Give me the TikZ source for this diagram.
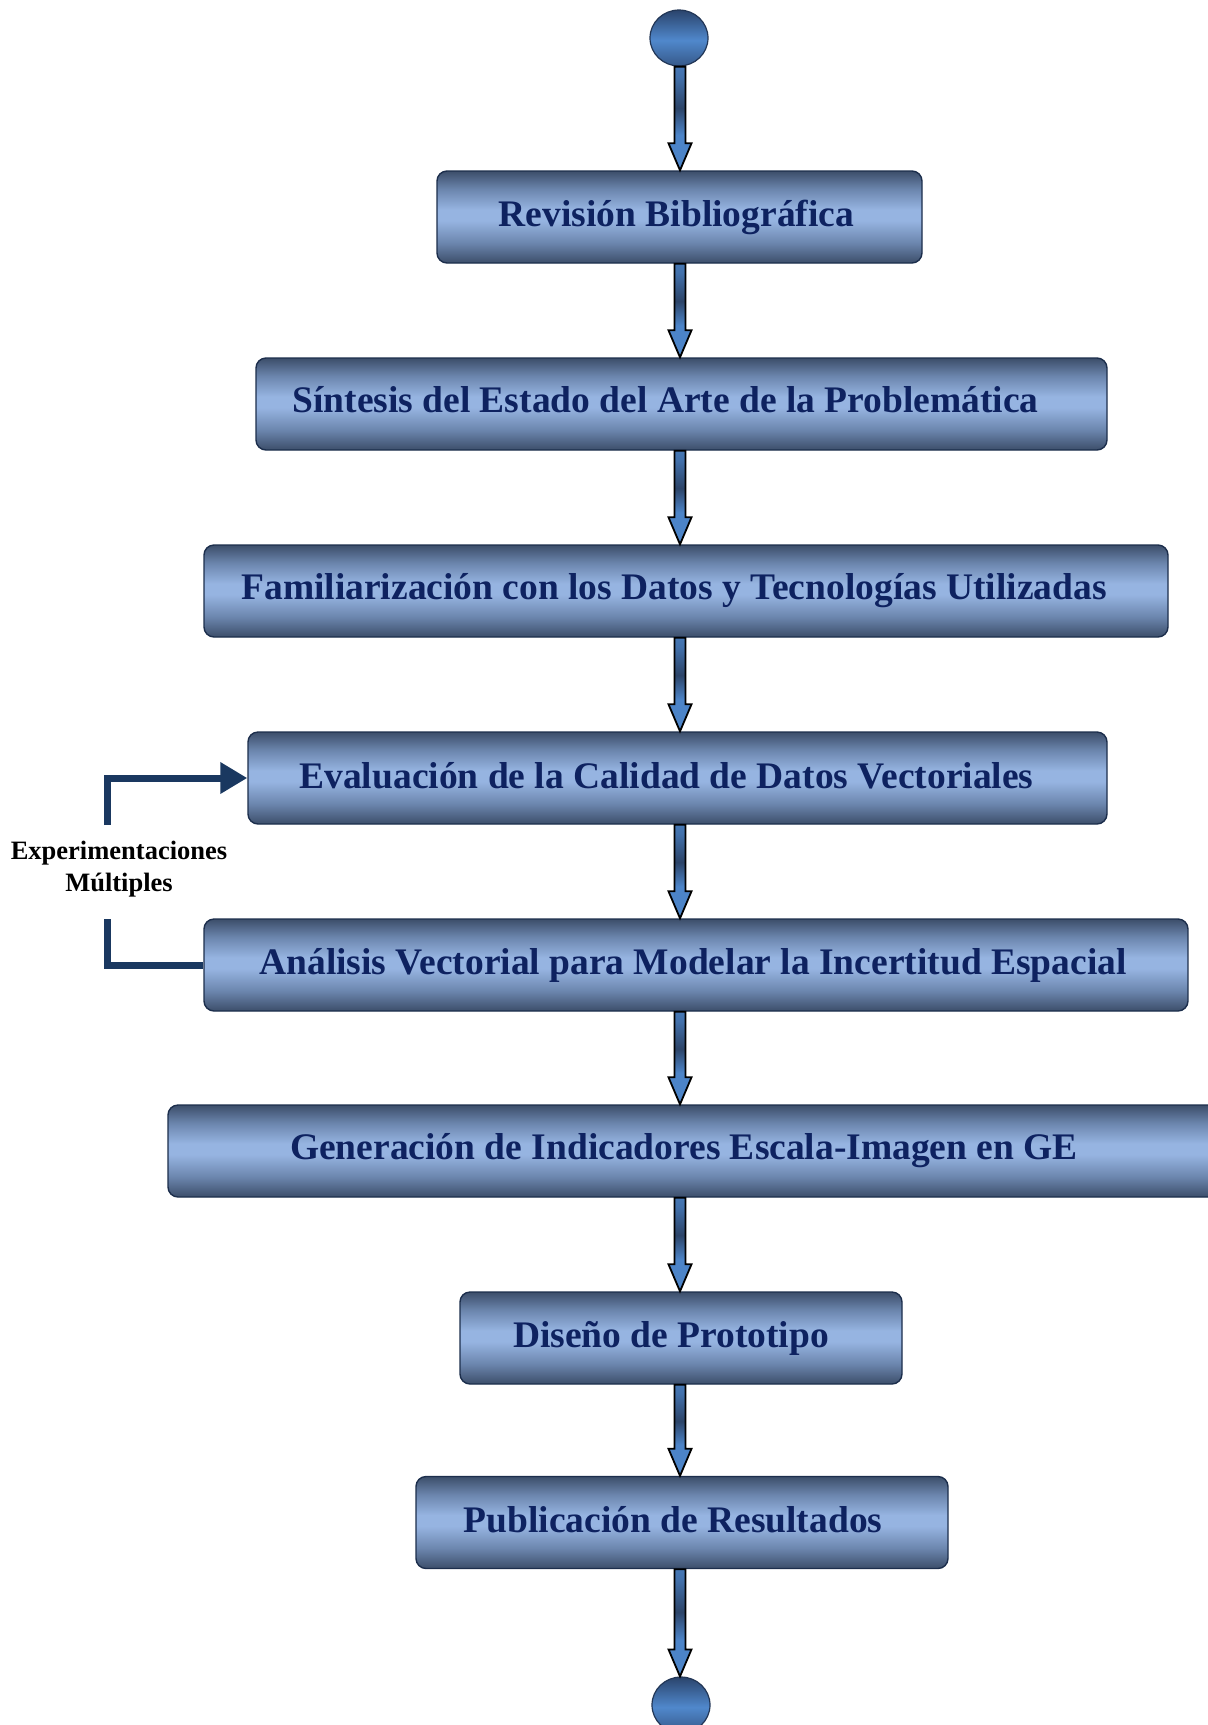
\documentclass[tikz,border=0pt]{standalone}
\usepackage{fontspec}
\setmainfont{Liberation Serif}
\usetikzlibrary{calc,arrows.meta,shapes.geometric}
\pgfdeclarelayer{background}
\pgfsetlayers{background,main}
\definecolor{bdark}{RGB}{60,78,106}
\definecolor{bmid}{RGB}{108,134,174}
\definecolor{blight}{RGB}{150,180,225}
\definecolor{bborder}{RGB}{28,46,76}
\definecolor{txtcol}{RGB}{14,34,96}
\definecolor{loopcol}{RGB}{26,56,96}
\definecolor{cdark}{RGB}{42,68,108}
\definecolor{clight}{RGB}{80,136,204}
\definecolor{alight}{RGB}{76,132,200}
\definecolor{adark}{RGB}{44,68,104}
\pgfdeclareverticalshading{boxshade}{100bp}{color(0bp)=(bdark); color(25bp)=(bdark); color(36bp)=(bmid); color(48bp)=(blight); color(54bp)=(blight); color(65bp)=(bmid); color(75bp)=(bdark); color(100bp)=(bdark)}
\pgfdeclareverticalshading{circshade}{100bp}{color(0bp)=(cdark!70!clight); color(25bp)=(cdark!70!clight); color(48bp)=(clight); color(75bp)=(cdark); color(100bp)=(cdark)}
\pgfdeclareverticalshading{arrowshade}{100bp}{color(0bp)=(alight); color(25bp)=(alight); color(42bp)=(alight); color(55bp)=(adark); color(70bp)=(alight!70!adark); color(75bp)=(alight!80!adark); color(100bp)=(alight!80!adark)}
\tikzset{
  stepbox/.style={draw=bborder, line width=1.4pt, shading=boxshade, rounded corners=10pt,
    minimum height=92pt, inner sep=0pt, text=txtcol,
    font=\bfseries\fontsize{37.5}{42}\selectfont},
  endpoint/.style={ellipse, draw=cdark!80!black, line width=1.2pt, shading=circshade,
    minimum width=58pt, minimum height=56pt, inner sep=0pt},
  blockarr/.style={draw=black, line width=1.8pt, shading=arrowshade, line join=miter},
  loopline/.style={draw=loopcol, line width=7pt},
  looplabel/.style={align=center, font=\bfseries\fontsize{26.5}{32}\selectfont, text=black}
}
\newcommand{\blockarrow}[2]{%
  \path[blockarr] let \p1=(#1.south), \p2=(#2.north), \p3=(axis) in
    (\x3-5.5pt,\y1) -- (\x3+5.5pt,\y1) -- (\x3+5.5pt,\y2+27pt) -- (\x3+11.5pt,\y2+27pt)
    -- (\x3,\y2) -- (\x3-11.5pt,\y2+27pt) -- (\x3-5.5pt,\y2+27pt) -- cycle;}
\begin{document}
\begin{tikzpicture}[x=1pt,y=-1pt]
\useasboundingbox (0,0) rectangle (1208,1725);
\clip (0,0) rectangle (1208,1725);
\coordinate (axis) at (680,0);
\coordinate (lt) at (107,825);
\coordinate (lb) at (107,919);
% nodes
\node[endpoint] (s) at (679,38) {};
\node[stepbox, minimum width=485pt] (b1) at (679.5,217) {\hspace*{-6pt}Revisión Bibliográfica};
\node[stepbox, minimum width=851pt] (b2) at (681.5,404) {\hspace*{-32pt}\raisebox{9pt}{Síntesis del Estado del Arte de la Problemática}};
\node[stepbox, minimum width=964pt] (b3) at (686,591) {\hspace*{-24pt}Familiarización con los Datos y Tecnologías Utilizadas};
\node[stepbox, minimum width=859pt] (b4) at (677.5,778) {\hspace*{-22pt}\raisebox{6pt}{Evaluación de la Calidad de Datos Vectoriales}};
\node[stepbox, minimum width=984pt] (b5) at (696,965) {\hspace*{-6pt}Análisis Vectorial para Modelar la Incertitud Espacial};
\node[stepbox, minimum width=1072pt] (b6) at (704,1151) {\hspace*{-40pt}Generación de Indicadores Escala-Imagen en GE};
\node[stepbox, minimum width=442pt] (b7) at (681,1338) {\hspace*{-20pt}Diseño de Prototipo};
\node[stepbox, minimum width=532pt] (b8) at (682,1522.5) {\hspace*{-18pt}\raisebox{6pt}{Publicación de Resultados}};
\node[endpoint] (e) at (681,1705) {};
% loop lines (behind boxes)
\begin{pgfonlayer}{background}
\draw[loopline] (b5.west) -| (lb);
\draw[loopline, -{Triangle[length=27pt,width=30pt]}] (lt) |- (b4.west);
\end{pgfonlayer}
\node[looplabel] (lbl) at (119,869) {Experimentaciones\\Múltiples};
% block arrows
\blockarrow{s}{b1}
\blockarrow{b1}{b2}
\blockarrow{b2}{b3}
\blockarrow{b3}{b4}
\blockarrow{b4}{b5}
\blockarrow{b5}{b6}
\blockarrow{b6}{b7}
\blockarrow{b7}{b8}
\blockarrow{b8}{e}
\end{tikzpicture}
\end{document}
